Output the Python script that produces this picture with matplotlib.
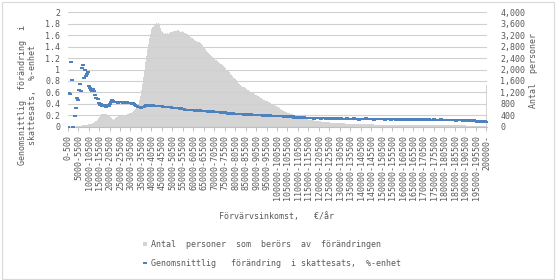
import numpy as np
import matplotlib.pyplot as plt
from matplotlib.patches import Patch, Rectangle
from matplotlib.lines import Line2D

# Inkomstklasser (500 €/år), sista klassen öppen
klasser = [f'{lo}-{lo + 500}' for lo in range(0, 200000, 500)] + ['200000-']

# Genomsnittlig förändring i skattesats, %-enhet (vänster axel)
forandring = [
    0.00, 0.59, 0.57, 1.13, 0.81, 0.00, 0.19, 0.33, 0.50, 0.46, 0.64, 0.75, 0.63, 1.03, 1.07, 0.86, 1.00, 0.89, 0.93, 0.95,
    0.72, 0.67, 0.64, 0.63, 0.66, 0.62, 0.55, 0.51, 0.48, 0.41, 0.38, 0.40, 0.37, 0.36, 0.38, 0.37, 0.35, 0.38, 0.36, 0.37,
    0.39, 0.43, 0.47, 0.45, 0.44, 0.43, 0.44, 0.43, 0.42, 0.44, 0.43, 0.43, 0.42, 0.44, 0.43, 0.42, 0.43, 0.41, 0.42, 0.41,
    0.42, 0.40, 0.41, 0.39, 0.38, 0.37, 0.36, 0.35, 0.34, 0.34, 0.33, 0.34, 0.35, 0.37, 0.38, 0.38, 0.38, 0.37, 0.38, 0.38,
    0.37, 0.38, 0.37, 0.37, 0.37, 0.36, 0.37, 0.37, 0.36, 0.36, 0.36, 0.35, 0.35, 0.35, 0.34, 0.35, 0.34, 0.34, 0.34, 0.33,
    0.33, 0.33, 0.32, 0.32, 0.33, 0.32, 0.32, 0.31, 0.32, 0.31, 0.31, 0.31, 0.30, 0.30, 0.30, 0.29, 0.30, 0.29, 0.29, 0.29,
    0.29, 0.28, 0.29, 0.28, 0.28, 0.28, 0.29, 0.28, 0.27, 0.28, 0.27, 0.27, 0.28, 0.27, 0.26, 0.27, 0.26, 0.26, 0.27, 0.26,
    0.25, 0.26, 0.25, 0.25, 0.26, 0.25, 0.24, 0.25, 0.24, 0.24, 0.25, 0.24, 0.24, 0.23, 0.24, 0.23, 0.23, 0.24, 0.23, 0.23,
    0.23, 0.22, 0.23, 0.22, 0.23, 0.22, 0.22, 0.22, 0.21, 0.22, 0.22, 0.21, 0.22, 0.21, 0.21, 0.22, 0.20, 0.21, 0.21, 0.20,
    0.21, 0.20, 0.20, 0.21, 0.20, 0.20, 0.19, 0.20, 0.20, 0.19, 0.20, 0.19, 0.19, 0.20, 0.18, 0.19, 0.19, 0.18, 0.19, 0.19,
    0.18, 0.19, 0.18, 0.18, 0.19, 0.18, 0.17, 0.18, 0.18, 0.17, 0.18, 0.17, 0.18, 0.17, 0.17, 0.18, 0.16, 0.17, 0.17, 0.16,
    0.17, 0.16, 0.17, 0.16, 0.16, 0.17, 0.15, 0.16, 0.16, 0.15, 0.16, 0.15, 0.16, 0.16, 0.15, 0.14, 0.16, 0.15, 0.15, 0.16,
    0.15, 0.15, 0.14, 0.15, 0.16, 0.15, 0.14, 0.15, 0.15, 0.14, 0.15, 0.14, 0.15, 0.15, 0.13, 0.15, 0.14, 0.14, 0.15, 0.14,
    0.14, 0.15, 0.14, 0.13, 0.14, 0.14, 0.15, 0.14, 0.13, 0.14, 0.14, 0.13, 0.14, 0.15, 0.14, 0.13, 0.14, 0.14, 0.12, 0.14,
    0.14, 0.13, 0.14, 0.13, 0.14, 0.15, 0.13, 0.14, 0.13, 0.13, 0.14, 0.13, 0.12, 0.14, 0.13, 0.14, 0.13, 0.13, 0.14, 0.13,
    0.13, 0.14, 0.13, 0.12, 0.13, 0.14, 0.13, 0.13, 0.12, 0.13, 0.14, 0.13, 0.13, 0.12, 0.13, 0.13, 0.14, 0.12, 0.13, 0.13,
    0.12, 0.13, 0.13, 0.14, 0.12, 0.13, 0.12, 0.13, 0.13, 0.11, 0.13, 0.12, 0.13, 0.12, 0.13, 0.14, 0.12, 0.12, 0.13, 0.12,
    0.12, 0.13, 0.12, 0.11, 0.12, 0.13, 0.12, 0.12, 0.11, 0.12, 0.13, 0.12, 0.12, 0.11, 0.12, 0.12, 0.13, 0.11, 0.12, 0.12,
    0.11, 0.12, 0.12, 0.11, 0.12, 0.11, 0.12, 0.11, 0.11, 0.12, 0.11, 0.10, 0.11, 0.11, 0.12, 0.11, 0.11, 0.10, 0.11, 0.11,
    0.11, 0.10, 0.11, 0.11, 0.10, 0.11, 0.10, 0.10, 0.11, 0.10, 0.10, 0.09, 0.10, 0.10, 0.09, 0.10, 0.09, 0.09, 0.10, 0.09,
    0.09,
]

# Antal personer som berörs av förändringen (höger axel)
antal = [
    0, 0, 0, 0, 0, 0, 0, 0, 10, 15, 20, 25, 30, 35, 45, 55, 60, 65, 75, 85,
    90, 100, 110, 125, 140, 160, 185, 215, 250, 290, 340, 390, 430, 450, 455, 450, 445, 430, 410, 385,
    350, 310, 270, 240, 260, 300, 330, 350, 365, 375, 380, 385, 390, 395, 400, 410, 425, 440, 455, 470,
    490, 520, 550, 580, 620, 660, 720, 800, 920, 1080, 1280, 1500, 1750, 2000, 2250, 2480, 2700, 2900, 3100, 3250,
    3400, 3480, 3560, 3540, 3620, 3570, 3640, 3550, 3460, 3340, 3300, 3270, 3250, 3260, 3240, 3270, 3250, 3280, 3300, 3310,
    3320, 3340, 3330, 3360, 3390, 3370, 3350, 3320, 3300, 3340, 3310, 3290, 3260, 3250, 3240, 3200, 3170, 3140, 3110, 3090,
    3060, 3040, 3010, 2990, 2970, 2950, 2940, 2900, 2850, 2800, 2750, 2700, 2650, 2620, 2580, 2540, 2500, 2460, 2420, 2390,
    2370, 2340, 2320, 2290, 2250, 2220, 2200, 2170, 2130, 2080, 2040, 2000, 1980, 1940, 1900, 1850, 1800, 1760, 1720, 1690,
    1660, 1620, 1580, 1540, 1500, 1460, 1430, 1400, 1380, 1350, 1320, 1290, 1270, 1250, 1230, 1210, 1190, 1170, 1150, 1120,
    1100, 1080, 1060, 1040, 1020, 990, 970, 950, 930, 910, 890, 870, 850, 830, 810, 790, 770, 750, 735, 720,
    700, 680, 650, 620, 600, 580, 560, 540, 520, 500, 485, 470, 460, 445, 430, 415, 400, 385, 370, 355,
    345, 335, 325, 315, 305, 295, 285, 275, 265, 255, 250, 245, 235, 230, 225, 215, 210, 205, 200, 195,
    190, 185, 180, 175, 170, 165, 160, 158, 155, 150, 148, 145, 140, 138, 135, 132, 130, 128, 125, 122,
    120, 118, 116, 114, 112, 110, 108, 106, 105, 104, 102, 100, 99, 98, 96, 95, 94, 92, 90, 89,
    88, 87, 86, 85, 84, 83, 82, 81, 80, 80, 79, 78, 77, 76, 76, 75, 74, 74, 73, 72,
    72, 71, 70, 70, 69, 68, 68, 67, 67, 66, 65, 65, 64, 64, 63, 63, 62, 62, 61, 61,
    60, 60, 59, 59, 58, 58, 58, 57, 57, 56, 56, 56, 55, 55, 55, 54, 54, 54, 53, 53,
    53, 52, 52, 52, 51, 51, 51, 50, 50, 50, 50, 49, 49, 49, 48, 48, 48, 48, 47, 47,
    47, 46, 46, 46, 46, 45, 45, 45, 45, 44, 44, 44, 44, 43, 43, 43, 43, 42, 42, 42,
    42, 41, 41, 41, 41, 40, 40, 40, 40, 39, 39, 39, 39, 38, 38, 38, 38, 37, 37, 37,
    1450,
]

blue = '#4f81bd'
grey = '#d4d4d4'
txt = '#595959'
font = 'DejaVu Sans Mono'
fs = 6

plt.rcParams['font.family'] = font
plt.rcParams['font.size'] = fs

fig = plt.figure(figsize=(5.56, 2.8), dpi=100)
ax = fig.add_axes([67.7 / 556, 1 - 126.7 / 280, (487.3 - 67.7) / 556, (126.7 - 12.3) / 280])
ax2 = ax.twinx()
ax.set_zorder(ax2.get_zorder() + 1)
ax.patch.set_visible(False)

x = np.arange(len(klasser))
ax2.bar(x, antal, width=1.0, color=grey, linewidth=0)

dash = [(-1, -0.55), (1, -0.55), (1, 0.55), (-1, 0.55), (-1, -0.55)]
ax.plot(x, forandring, linestyle='none', marker=dash, markersize=3.0,
        color=blue, markeredgewidth=0, zorder=3)

ax.set_xlim(-0.5, len(klasser) - 0.5)
ax.set_ylim(0, 2)
ax2.set_ylim(0, 4000)

ax.set_yticks(np.arange(0, 2.01, 0.2))
ax.set_yticklabels([f'{v:g}' for v in np.arange(0, 2.01, 0.2).round(1)])
ax2.set_yticks(np.arange(0, 4001, 400))
ax2.set_yticklabels([f'{v:,}' for v in range(0, 4001, 400)])
ax.grid(axis='y', color='#d0d0d0', linewidth=0.8, zorder=1)
ax.set_axisbelow(True)

ax.set_xticks(x[::10])
ax.set_xticklabels([klasser[i] for i in x[::10]], rotation=90)
ax.set_xticks(np.arange(-0.5, len(klasser), 10), minor=True)
ax.tick_params(axis='x', which='major', length=0, pad=6, labelsize=fs, colors=txt)
ax.tick_params(axis='x', which='minor', length=3, width=0.7, color='#bfbfbf')
ax.tick_params(axis='y', length=0, pad=5.5, labelsize=fs, colors=txt)
ax2.tick_params(axis='y', length=0, pad=9.5, labelsize=fs, colors=txt)

for s in ['top', 'left', 'right']:
    ax.spines[s].set_visible(False)
for s in ax2.spines.values():
    s.set_visible(False)
ax.spines['bottom'].set_color('#bfbfbf')
ax.spines['bottom'].set_linewidth(0.8)

fig.text(27.5 / 556, 1 - 95 / 280, 'Genomsnittlig  förändring  i\nskattesats,  %-enhet',
         rotation=90, ha='center', va='center', multialignment='center', color=txt, fontsize=fs)
fig.text(533 / 556, 1 - 71 / 280, 'Antal  personer', rotation=90,
         ha='center', va='center', color=txt, fontsize=fs)
fig.text(276.5 / 556, 1 - 216 / 280, 'Förvärvsinkomst,   €/år',
         ha='center', va='center', color=txt, fontsize=fs)

handles = [Patch(facecolor=grey, edgecolor='none'),
           Line2D([], [], linestyle='none', marker=dash, markersize=3.0,
                  color=blue, markeredgewidth=0)]
labels = ['Antal  personer  som  berörs  av  förändringen',
          'Genomsnittlig   förändring  i skattesats,  %-enhet']
leg = fig.legend(handles, labels, loc='upper left', bbox_to_anchor=(143 / 556, 1 - 240 / 280),
                 frameon=False, fontsize=fs, handlelength=0.5, handleheight=0.5,
                 handletextpad=0.5, labelspacing=1.15, borderpad=0, borderaxespad=0)
for t in leg.get_texts():
    t.set_color(txt)

fig.patches.append(Rectangle((1.5 / 556, 1.5 / 280), 552 / 556, 277 / 280,
                             transform=fig.transFigure, fill=False,
                             edgecolor='#d9d9d9', linewidth=0.8))

fig.savefig('out.png', dpi=100)
